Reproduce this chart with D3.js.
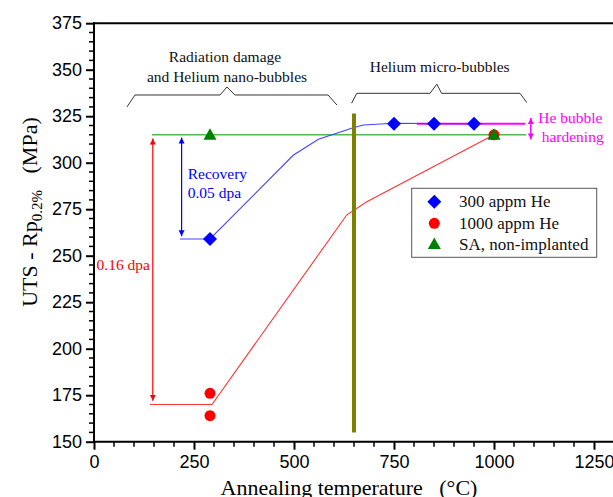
<!DOCTYPE html>
<html><head><meta charset="utf-8">
<script src="https://cdn.jsdelivr.net/npm/d3@7"></script>
<style>body{margin:0;background:#fff}svg{display:block}</style>
</head><body>
<script>
// Data
const temp300 = [290, 750, 850, 950];
const val300 = [259, 321, 321, 321];
const temp1000 = [290, 290, 1000];
const val1000 = [176, 164, 315];
const tempSA = [290, 1000];
const valSA = [315, 315];
const fit300T = [215, 290, 498, 561, 644, 673, 750, 850, 972];
const fit300V = [259, 259, 304, 312.6, 318.5, 320.3, 321.2, 321, 321];
const fit1000T = [140, 295, 632, 682, 1000];
const fit1000V = [170, 170, 272, 279, 315];
const saLineT = [145, 1080];
const saLineV = [315, 315];
const heLineT = [807, 1078];
const heLineV = [321, 321];
const transT = 650;
const transV = [155, 326.5];
const xTicks = [0, 250, 500, 750, 1000, 1250];
const yTicks = [150, 175, 200, 225, 250, 275, 300, 325, 350, 375];
const legendLabels = ["300 appm He", "1000 appm He", "SA, non-implanted"];

const W = 613, H = 497;
const x = d3.scaleLinear().domain([0, 1250]).range([94, 594]);
const y = d3.scaleLinear().domain([150, 375]).range([441.7, 23.2]);

const svg = d3.select("body").append("svg").attr("width", W).attr("height", H);
const serif = "Liberation Serif, Times New Roman, DejaVu Serif, serif";
const sans = "Liberation Sans, Arial, sans-serif";

const defs = svg.append("defs");
function arrowDef(id, color) {
  defs.append("marker").attr("id", id).attr("viewBox", "0 0 10 10")
    .attr("refX", 10).attr("refY", 5).attr("markerWidth", 6).attr("markerHeight", 8)
    .attr("markerUnits", "userSpaceOnUse").attr("orient", "auto-start-reverse")
    .append("path").attr("d", "M0,0 L10,5 L0,10 Z").attr("fill", color);
}
arrowDef("ar", "#ff0000"); arrowDef("ab", "#0000ff"); arrowDef("am", "#ff00ff");

// Axes
const xAxis = d3.axisBottom(x).tickValues(xTicks).tickFormat(d3.format("d"))
  .tickSize(8).tickSizeOuter(0).tickPadding(6);
const gx = svg.append("g").attr("transform", `translate(0,${y(150)})`).call(xAxis);
gx.select(".domain").remove();
svg.append("line").attr("x1", x(0)).attr("x2", W + 5).attr("y1", y(150)).attr("y2", y(150))
  .attr("stroke", "#000").attr("stroke-width", 2);
gx.selectAll(".tick line").attr("stroke-width", 2);
gx.selectAll("text").attr("font-family", sans).attr("font-size", 18).attr("fill", "#000");
const xMinor = d3.range(50, 1350, 50).filter(v => v % 250 !== 0);
svg.selectAll(".xm").data(xMinor).enter().append("line")
  .attr("x1", d => x(d)).attr("x2", d => x(d)).attr("y1", y(150)).attr("y2", y(150) + 5)
  .attr("stroke", "#000").attr("stroke-width", 1.5);

const yAxis = d3.axisLeft(y).tickValues(yTicks).tickFormat(d3.format("d"))
  .tickSize(8).tickSizeOuter(0).tickPadding(4);
const gy = svg.append("g").attr("transform", `translate(${x(0)},0)`).call(yAxis);
gy.select(".domain").remove();
svg.append("line").attr("x1", x(0)).attr("x2", x(0)).attr("y1", y(150) + 1).attr("y2", y(375) - 1)
  .attr("stroke", "#000").attr("stroke-width", 2);
gy.selectAll(".tick line").attr("stroke-width", 2);
gy.selectAll("text").attr("font-family", sans).attr("font-size", 18).attr("fill", "#000");
const yMinor = d3.range(155, 375, 5).filter(v => v % 25 !== 0);
svg.selectAll(".ym").data(yMinor).enter().append("line")
  .attr("x1", x(0) - 5).attr("x2", x(0)).attr("y1", d => y(d)).attr("y2", d => y(d))
  .attr("stroke", "#000").attr("stroke-width", 1.5);
svg.append("line").attr("x1", x(0) - 1).attr("x2", W + 5).attr("y1", y(375)).attr("y2", y(375))
  .attr("stroke", "#000").attr("stroke-width", 2);

// Axis titles
svg.append("text").attr("x", 349).attr("y", 495).attr("text-anchor", "middle")
  .attr("font-family", serif).attr("font-size", 22).attr("xml:space", "preserve")
  .text("Annealing temperature   (°C)");
const yt = svg.append("text").attr("transform", "translate(37,212) rotate(-90)")
  .attr("text-anchor", "middle").attr("font-family", serif).attr("font-size", 22)
  .attr("xml:space", "preserve");
yt.append("tspan").text("UTS - Rp");
yt.append("tspan").attr("font-size", 15).attr("dy", 5).text("0.2%");
yt.append("tspan").attr("dy", -5).text("   (MPa)");

const line = d3.line().x(d => x(d[0])).y(d => y(d[1]));
const zip = (a, b) => a.map((v, i) => [v, b[i]]);

svg.append("path").attr("d", line(zip(saLineT, saLineV))).attr("fill", "none")
  .attr("stroke", "#55b855").attr("stroke-width", 1.5);
svg.append("path").attr("d", line(zip(heLineT, heLineV))).attr("fill", "none")
  .attr("stroke", "#ff00ff").attr("stroke-width", 2);
svg.append("path").attr("d", line(zip(fit300T, fit300V))).attr("fill", "none")
  .attr("stroke", "#4444ff").attr("stroke-width", 1.1);
svg.append("path").attr("d", line(zip(fit1000T, fit1000V))).attr("fill", "none")
  .attr("stroke", "#ff3333").attr("stroke-width", 1.1);
svg.append("line").attr("x1", x(transT)).attr("x2", x(transT)).attr("y1", y(transV[0])).attr("y2", y(transV[1]))
  .attr("stroke", "#808000").attr("stroke-width", 4);

// Arrows
svg.append("line").attr("x1", x(147)).attr("x2", x(147)).attr("y1", y(172)).attr("y2", y(313))
  .attr("stroke", "#ff0000").attr("stroke-width", 1.2)
  .attr("marker-end", "url(#ar)").attr("marker-start", "url(#ar)");
svg.append("line").attr("x1", x(219)).attr("x2", x(219)).attr("y1", y(260.5)).attr("y2", y(313.5))
  .attr("stroke", "#0000ff").attr("stroke-width", 1.2)
  .attr("marker-end", "url(#ab)").attr("marker-start", "url(#ab)");
svg.append("line").attr("x1", x(1092)).attr("x2", x(1092)).attr("y1", y(312.5)).attr("y2", y(324))
  .attr("stroke", "#ff00ff").attr("stroke-width", 1.5)
  .attr("marker-end", "url(#am)").attr("marker-start", "url(#am)");

// Braces
const braceL = [[82.5, 330], [102.5, 336.4], [315, 336.4], [332.5, 340.7], [352.5, 336.4], [585, 336.4], [607.5, 331]];
const braceR = [[644, 332], [657, 337.3], [840, 337.3], [857, 342.2], [869, 337.3], [1065, 337.3], [1082, 332.3]];
[braceL, braceR].forEach(b => svg.append("path").attr("d", line(b)).attr("fill", "none")
  .attr("stroke", "#333").attr("stroke-width", 1));

// Markers
function drawDiamond(g, cx, cy) {
  g.append("path").attr("d", "M0,-7 L7,0 L0,7 L-7,0 Z").attr("transform", `translate(${cx},${cy})`).attr("fill", "#0000ff");
}
function drawCircle(g, cx, cy) {
  g.append("circle").attr("cx", cx).attr("cy", cy).attr("r", 5.5).attr("fill", "#ff0000");
}
function drawTri(g, cx, cy) {
  g.append("path").attr("d", "M0,-6.5 L6.5,5 L-6.5,5 Z").attr("transform", `translate(${cx},${cy})`).attr("fill", "#008000");
}
const gm = svg.append("g");
temp300.forEach((t, i) => drawDiamond(gm, x(t), y(val300[i])));
temp1000.forEach((t, i) => drawCircle(gm, x(t), y(val1000[i])));
tempSA.forEach((t, i) => drawTri(gm, x(t), y(valSA[i])));

function txt(tx, ty, s, color, anchor, size) {
  svg.append("text").attr("x", tx).attr("y", ty).attr("text-anchor", anchor || "start")
    .attr("font-family", serif).attr("font-size", size || 15.5).attr("fill", color).text(s);
}
txt(225, 62.3, "Radiation damage", "#111", "middle");
txt(227, 81.7, "and Helium nano-bubbles", "#111", "middle");
txt(439.7, 72.3, "Helium micro-bubbles", "#111", "middle");
txt(187.7, 179, "Recovery", "#0000ff");
txt(187.7, 198.3, "0.05 dpa", "#0000ff");
txt(96.5, 270, "0.16 dpa", "#ff0000");
txt(538.3, 123.3, "He bubble", "#ff00ff");
txt(541.7, 141.7, "hardening", "#ff00ff");

// Legend
svg.append("rect").attr("x", 411.7).attr("y", 188.3).attr("width", 185).attr("height", 69)
  .attr("fill", "#fff").attr("stroke", "#555").attr("stroke-width", 1);
const ly = [201.7, 223.3, 244];
drawDiamond(svg, 434.3, ly[0]);
drawCircle(svg, 434.3, ly[1]);
drawTri(svg, 434.3, ly[2]);
legendLabels.forEach((l, i) => svg.append("text").attr("x", 459).attr("y", ly[i] + 5.5)
  .attr("font-family", serif).attr("font-size", 17).attr("fill", "#111").text(l));
</script>
</body></html>
